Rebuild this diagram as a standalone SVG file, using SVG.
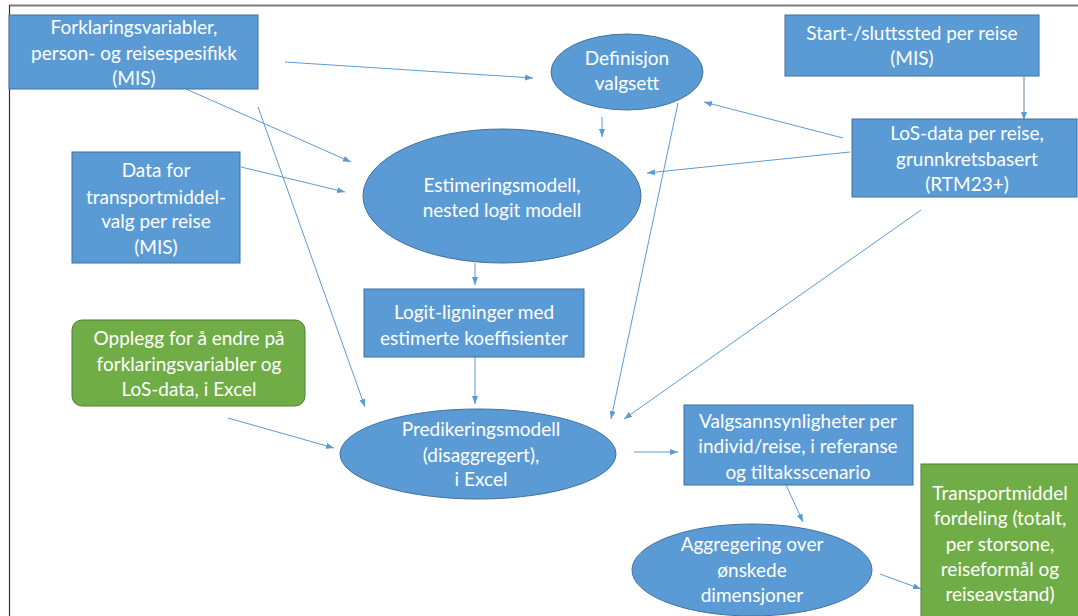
<svg xmlns="http://www.w3.org/2000/svg" width="1078" height="616" viewBox="0 0 1078 616">
<style>
.box{fill:#5b9bd5;stroke:#41719c;stroke-width:1}
.grn{fill:#70ad47;stroke:#507e32;stroke-width:1}
.t{font-family:Lato,"Liberation Sans",sans-serif;font-size:19px;fill:#ffffff;text-anchor:middle}
.c{stroke:#5b9bd5;stroke-width:1;fill:none;marker-end:url(#ah)}
.cg{stroke:#8497b0;stroke-width:1.2;fill:none;marker-end:url(#ah)}
</style>
<defs>
<marker id="ah" markerUnits="userSpaceOnUse" markerWidth="8" markerHeight="6" refX="8" refY="3" orient="auto">
<path d="M0,0 L8,3 L0,6 z" fill="#5b9bd5"/>
</marker>
</defs>
<rect x="0" y="0" width="1078" height="616" fill="#ffffff"/>
<line x1="9" y1="5.5" x2="1078" y2="5.5" stroke="#7f7f7f" stroke-width="2"/>
<line x1="9.5" y1="5" x2="9.5" y2="616" stroke="#333333" stroke-width="1.2"/>

<g id="connectors">
<line class="c" x1="285" y1="62" x2="533" y2="78"/>
<line class="c" x1="186" y1="89" x2="351" y2="162"/>
<line class="c" x1="258" y1="107" x2="365" y2="407"/>
<line class="c" x1="241" y1="167" x2="345" y2="192"/>
<line class="c" x1="602" y1="117" x2="602" y2="137"/>
<line class="c" x1="678" y1="103" x2="611" y2="419"/>
<line class="cg" x1="1024" y1="76" x2="1024" y2="120"/>
<line class="c" x1="843" y1="138" x2="704" y2="102"/>
<line class="c" x1="850" y1="152" x2="647" y2="173"/>
<line class="c" x1="921" y1="210" x2="624" y2="419"/>
<line class="c" x1="475" y1="263" x2="475" y2="285"/>
<line class="c" x1="475" y1="357" x2="475" y2="404"/>
<line class="c" x1="228" y1="418" x2="334" y2="448"/>
<line class="c" x1="634" y1="452" x2="678" y2="452"/>
<line class="c" x1="786" y1="485" x2="803" y2="522"/>
<line class="c" x1="880" y1="574" x2="921" y2="589"/>
</g>

<g id="n-forklaring">
<rect class="box" x="9" y="15" width="249" height="74"/>
<text class="t" x="134" y="34">Forklaringsvariabler,</text>
<text class="t" x="134" y="60">person- og reisespesifikk</text>
<text class="t" x="134" y="85">(MIS)</text>
</g>

<g id="n-definisjon">
<ellipse class="box" cx="627" cy="72" rx="76" ry="38"/>
<text class="t" x="627" y="65">Definisjon</text>
<text class="t" x="627" y="90">valgsett</text>
</g>

<g id="n-start">
<rect class="box" x="785" y="15" width="254" height="61"/>
<text class="t" x="912" y="40">Start-/sluttssted per reise</text>
<text class="t" x="912" y="65">(MIS)</text>
</g>

<g id="n-los">
<rect class="box" x="852" y="119" width="225" height="78"/>
<text class="t" x="967" y="140">LoS-data per reise,</text>
<text class="t" x="967" y="166">grunnkretsbasert</text>
<text class="t" x="967" y="191">(RTM23+)</text>
</g>

<g id="n-data">
<rect class="box" x="72" y="152" width="168" height="111"/>
<text class="t" x="156" y="177">Data for</text>
<text class="t" x="156" y="204">transportmiddel-</text>
<text class="t" x="156" y="228">valg per reise</text>
<text class="t" x="156" y="254">(MIS)</text>
</g>

<g id="n-estimering">
<ellipse class="box" cx="502" cy="196" rx="139" ry="67"/>
<text class="t" x="502" y="192">Estimeringsmodell,</text>
<text class="t" x="502" y="217">nested logit modell</text>
</g>

<g id="n-logit">
<rect class="box" x="364" y="289" width="220" height="68"/>
<text class="t" x="474" y="319">Logit-ligninger med</text>
<text class="t" x="474" y="345">estimerte koeffisienter</text>
</g>

<g id="n-opplegg">
<rect class="grn" x="72" y="320" width="233" height="86" rx="10" ry="10"/>
<text class="t" x="189" y="345">Opplegg for å endre på</text>
<text class="t" x="189" y="371">forklaringsvariabler og</text>
<text class="t" x="189" y="396">LoS-data, i Excel</text>
</g>

<g id="n-prediker">
<ellipse class="box" cx="478" cy="454" rx="138" ry="45"/>
<text class="t" x="481" y="436">Predikeringsmodell</text>
<text class="t" x="481" y="462">(disaggregert),</text>
<text class="t" x="481" y="486">i Excel</text>
</g>

<g id="n-valgsann">
<rect class="box" x="684" y="405" width="229" height="80"/>
<text class="t" x="798" y="428">Valgsannsynligheter per</text>
<text class="t" x="798" y="453">individ/reise, i referanse</text>
<text class="t" x="798" y="479">og tiltaksscenario</text>
</g>

<g id="n-aggregering">
<ellipse class="box" cx="752" cy="570" rx="120" ry="46"/>
<text class="t" x="752" y="551">Aggregering over</text>
<text class="t" x="752" y="577">ønskede</text>
<text class="t" x="752" y="602">dimensjoner</text>
</g>

<g id="n-transport">
<rect class="grn" x="921" y="464" width="160" height="160"/>
<text class="t" x="1000" y="500">Transportmiddel</text>
<text class="t" x="1000" y="525">fordeling (totalt,</text>
<text class="t" x="1000" y="551">per storsone,</text>
<text class="t" x="1000" y="576">reiseformål og</text>
<text class="t" x="1000" y="601">reiseavstand)</text>
</g>
</svg>
